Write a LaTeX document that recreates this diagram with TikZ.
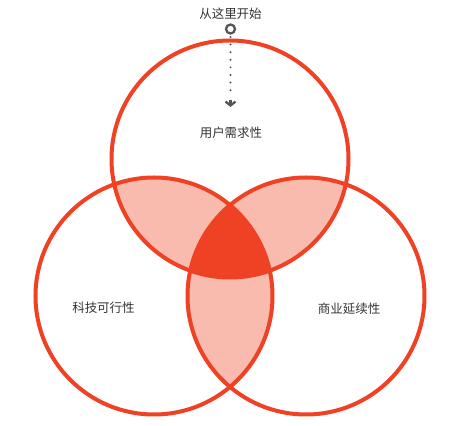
\documentclass[tikz,border=0pt]{standalone}
\usepackage{fontspec}
\newfontfamily\cjk{Noto Sans CJK SC}
\usetikzlibrary{arrows.meta}
\definecolor{vred}{HTML}{EF4123}
\definecolor{vlight}{HTML}{F8BBAE}
\definecolor{vtext}{HTML}{333333}
\definecolor{vgray}{HTML}{555555}
\tikzset{
  ring/.style={draw=vred, line width=4pt},
  label/.style={text=vtext, font=\cjk\fontsize{12.5}{15}\selectfont, inner sep=0pt},
  startmark/.style={circle, draw=vgray, line width=2.3pt, minimum size=9pt, inner sep=0pt},
  dotline/.style={draw=vgray, line width=2.2pt, line cap=round, dash pattern=on 0pt off 7.6pt},
  barb/.style={-{Straight Barb[length=4pt, width=10pt, line width=2.3pt, line cap=butt]}}
}
\begin{document}
\begin{tikzpicture}[x=1pt, y=1pt]
\useasboundingbox (0,0) rectangle (459,426);
\coordinate (T) at (230,267);
\coordinate (L) at (154,130);
\coordinate (R) at (306,130);
\def\rr{118.5}
% pairwise intersections
\begin{scope}
  \clip (T) circle (\rr);
  \fill[vlight] (L) circle (\rr);
  \fill[vlight] (R) circle (\rr);
\end{scope}
\begin{scope}
  \clip (L) circle (\rr);
  \fill[vlight] (R) circle (\rr);
\end{scope}
% triple intersection
\begin{scope}
  \clip (T) circle (\rr);
  \clip (L) circle (\rr);
  \fill[vred] (R) circle (\rr);
\end{scope}
% rings
\draw[ring] (T) circle (\rr);
\draw[ring] (L) circle (\rr);
\draw[ring] (R) circle (\rr);
% labels
\node[label] (begin) at (230.5,412.5) {从这里开始};
\node[startmark] (start) at (230.5,397) {};
\coordinate (arrowend) at (230.5,319);
\draw[dotline] ([yshift=-8pt]start.center) -- ([yshift=12pt]arrowend);
\draw[vgray, line width=2.3pt, barb] ([yshift=7pt]arrowend) -- (arrowend);
\node[label] (user) at (231,293) {用户需求性};
\node[label] (tech) at (103.5,118) {科技可行性};
\node[label] (biz) at (349,117) {商业延续性};
\end{tikzpicture}
\end{document}
